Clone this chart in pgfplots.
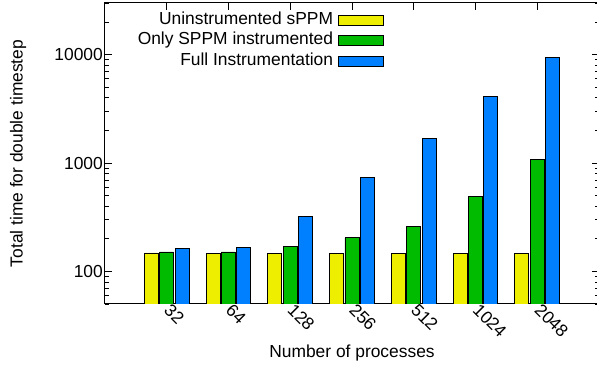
\documentclass[border=0pt]{standalone}
\usepackage{pgfplots}
\pgfplotsset{compat=1.18}
\usepackage{fontspec}
\setmainfont{Liberation Sans}
\definecolor{cyel}{RGB}{238,238,0}
\definecolor{cgrn}{RGB}{0,187,0}
\definecolor{cblu}{RGB}{0,128,255}
\begin{document}
\begin{tikzpicture}[font=\fontsize{17.4}{20}\selectfont]
\begin{axis}[
 at={(0,0)}, anchor=south west,
 scale only axis, width=494pt, height=301pt,
 ymode=log, ymin=50, ymax=30000,
 xmin=-1, xmax=7,
 ybar=1.4pt, bar width=14pt,
 xtick={0,...,6}, xticklabels={32,64,128,256,512,1024,2048},
 ytick={100,1000,10000}, yticklabels={100,1000,10000},
 minor ytick={50,60,70,80,90,200,300,400,500,600,700,800,900,2000,3000,4000,5000,6000,7000,8000,9000,20000,30000},
 xtick align=inside, ytick align=inside,
 xticklabel style={rotate=-45, anchor=north west, inner sep=1pt, xshift=1.4pt, yshift=5.7pt},
 yticklabel style={inner sep=2pt},
 major tick length=7pt, minor tick length=4pt,
 tick style={black, line width=0.6pt},
 axis line style={line width=1pt},
 xlabel={Number of processes}, ylabel={Total time for double timestep},
 every axis x label/.style={at={(rel axis cs:0.5,-0.163)}, anchor=center},
 every axis y label/.style={at={(rel axis cs:-0.176,0.5)}, rotate=90, anchor=center},
 legend style={draw=none, fill=none, at={(rel axis cs:0.565,0.975)}, anchor=north east, legend plot pos=right, inner sep=0pt, column sep=4pt, nodes={inner sep=1pt, text height=12.5pt, text depth=4pt}, row sep=2pt},
 legend cell align=right,
 legend image code/.code={\draw[#1,/tikz/.cd] (0pt,-5pt) rectangle (45pt,5pt);},
]
\addplot[fill=cyel, draw=black, line width=0.8pt] coordinates {(0,148) (1,147) (2,147) (3,147) (4,147) (5,147) (6,147)};
\addplot[fill=cgrn, draw=black, line width=0.8pt] coordinates {(0,151) (1,151) (2,169) (3,204) (4,262) (5,494) (6,1075)};
\addplot[fill=cblu, draw=black, line width=0.8pt] coordinates {(0,164) (1,166) (2,324) (3,731) (4,1671) (5,4150) (6,9500)};
\legend{Uninstrumented sPPM, Only SPPM instrumented, Full Instrumentation}
\end{axis}
\pgfresetboundingbox
\useasboundingbox (-105pt,-67pt) rectangle (492pt,304pt);
\end{tikzpicture}
\end{document}
